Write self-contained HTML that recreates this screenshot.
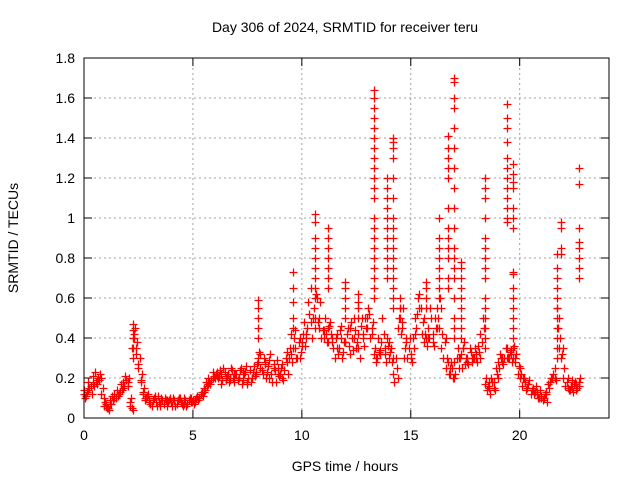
<!DOCTYPE html>
<html><head><meta charset="utf-8"><style>
body{margin:0;background:#fff}
text{font-family:"Liberation Sans",sans-serif;font-size:14px;fill:#000}
</style></head><body>
<svg id="chart" width="640" height="480">
<g id="grid"></g>
<g id="pts"></g>
<g id="axes"></g>
<text x="345" y="32" text-anchor="middle">Day 306 of 2024, SRMTID for receiver teru</text>
<text x="345" y="471" text-anchor="middle">GPS time / hours</text>
<text transform="translate(18,238) rotate(-90)" text-anchor="middle">SRMTID / TECUs</text>
</svg>
<script>
const xTicks=[0,5,10,15,20];
const yTicks=[0,0.2,0.4,0.6,0.8,1,1.2,1.4,1.6,1.8];
const yTickLabels=["0","0.2","0.4","0.6","0.8","1","1.2","1.4","1.6","1.8"];
const baseT=[0,0.2,0.4,0.6,0.8,0.9,1.0,1.2,1.4,1.6,1.8,2.0,2.1,2.2,2.3,2.4,2.5,2.6,2.7,2.8,3.0,3.2,3.5,3.8,4.0,4.3,4.6,4.9,5.1,5.3,5.5,5.7,5.9,6.1,6.3,6.5,6.7,6.9,7.1,7.3,7.5,7.7,7.9,8.0,8.1,8.3,8.5,8.7,8.9,9.1,9.3,9.5,9.7,9.9,10.0,10.2,10.4,10.6,10.8,11.0,11.2,11.4,11.6,11.8,12.0,12.2,12.4,12.6,12.8,13.0,13.2,13.4,13.6,13.8,14.0,14.2,14.4,14.6,14.8,15.0,15.2,15.4,15.6,15.8,16.0,16.2,16.4,16.6,16.8,17.0,17.2,17.4,17.6,17.8,18.0,18.2,18.4,18.6,18.8,19.0,19.2,19.4,19.6,19.8,20.0,20.2,20.4,20.6,20.8,21.0,21.2,21.4,21.6,21.8,22.0,22.2,22.4,22.6,22.7];
const baseV=[0.12,0.14,0.17,0.19,0.2,0.1,0.06,0.07,0.1,0.12,0.15,0.18,0.08,0.05,0.4,0.35,0.25,0.18,0.12,0.1,0.08,0.1,0.07,0.09,0.08,0.09,0.07,0.08,0.09,0.1,0.13,0.17,0.2,0.21,0.22,0.2,0.19,0.22,0.2,0.23,0.18,0.2,0.22,0.3,0.25,0.28,0.2,0.25,0.22,0.2,0.28,0.32,0.35,0.3,0.38,0.42,0.48,0.5,0.45,0.4,0.45,0.38,0.35,0.4,0.38,0.45,0.4,0.35,0.42,0.5,0.45,0.3,0.32,0.35,0.38,0.3,0.2,0.45,0.38,0.3,0.42,0.55,0.5,0.4,0.38,0.45,0.55,0.4,0.25,0.2,0.3,0.35,0.28,0.3,0.32,0.3,0.35,0.18,0.15,0.2,0.28,0.3,0.32,0.3,0.25,0.2,0.17,0.15,0.13,0.1,0.12,0.18,0.2,0.5,0.35,0.2,0.15,0.17,0.16];
const scatterStart=0.05;
const scatterV=[
0.10,0.13,0.15,0.12,0.16,0.18,0.2,0.22,0.15,0.08,
0.05,0.04,0.07,0.09,0.1,0.11,0.13,0.14,0.16,0.19,
0.2,0.1,0.04,0.45,0.38,0.3,0.22,0.15,0.1,0.12,
0.07,0.09,0.11,0.06,0.08,0.1,0.07,0.09,0.08,0.1,
0.06,0.09,0.07,0.1,0.08,0.06,0.09,0.07,0.1,0.08,
0.07,0.1,0.09,0.12,0.11,0.14,0.16,0.18,0.19,0.21,
0.22,0.2,0.24,0.19,0.23,0.21,0.18,0.25,0.2,0.22,
0.19,0.24,0.17,0.22,0.26,0.2,0.18,0.23,0.21,0.27,
0.33,0.24,0.3,0.2,0.26,0.32,0.18,0.24,0.29,0.21,
0.25,0.19,0.3,0.22,0.35,0.28,0.4,0.3,0.38,0.33,
0.42,0.36,0.45,0.52,0.4,0.55,0.62,0.48,0.58,0.44,
0.5,0.38,0.46,0.42,0.35,0.4,0.32,0.44,0.3,0.38,
0.42,0.36,0.48,0.34,0.44,0.38,0.3,0.5,0.36,0.45,
0.55,0.4,0.48,0.35,0.3,0.33,0.38,0.42,0.28,0.36,
0.33,0.28,0.18,0.25,0.5,0.42,0.55,0.35,0.3,0.4,
0.28,0.35,0.45,0.6,0.55,0.48,0.42,0.36,0.4,0.5,
0.36,0.45,0.5,0.6,0.42,0.38,0.3,0.22,0.28,0.2,
0.22,0.35,0.3,0.25,0.38,0.3,0.27,0.33,0.3,0.35,
0.28,0.33,0.38,0.45,0.2,0.16,0.12,0.18,0.14,0.22,
0.25,0.3,0.27,0.35,0.3,0.33,0.28,0.36,0.32,0.26,
0.22,0.2,0.18,0.15,0.19,0.14,0.12,0.16,0.1,0.14,
0.09,0.12,0.08,0.15,0.2,0.22,0.19,0.45,0.4,0.32,
0.25,0.18,0.14,0.16,0.13,0.18,0.15,0.2];
const scatter2Start=0.0;
const scatter2V=[
0.14,0.11,0.18,0.16,0.21,0.23,0.17,0.19,0.12,0.06,
0.07,0.05,0.09,0.11,0.12,0.14,0.12,0.17,0.18,0.21,
0.16,0.06,0.35,0.42,0.32,0.27,0.19,0.13,0.09,0.11,
0.09,0.06,0.1,0.08,0.11,0.06,0.09,0.1,0.06,0.09,
0.08,0.1,0.06,0.09,0.1,0.07,0.1,0.06,0.09,0.1,
0.09,0.08,0.11,0.1,0.13,0.15,0.18,0.2,0.17,0.23,
0.2,0.23,0.21,0.17,0.25,0.19,0.22,0.2,0.24,0.18,
0.22,0.2,0.25,0.19,0.23,0.17,0.24,0.2,0.26,0.23,
0.28,0.32,0.22,0.27,0.23,0.29,0.22,0.27,0.18,0.25,
0.22,0.27,0.24,0.33,0.3,0.42,0.35,0.44,0.3,0.4,
0.36,0.48,0.4,0.58,0.65,0.5,0.45,0.6,0.5,0.4,
0.44,0.42,0.38,0.48,0.4,0.3,0.42,0.35,0.46,0.33,
0.38,0.45,0.32,0.4,0.5,0.35,0.42,0.46,0.4,0.5,
0.45,0.52,0.42,0.32,0.28,0.4,0.34,0.5,0.32,0.4,
0.3,0.35,0.22,0.3,0.45,0.55,0.48,0.3,0.4,0.35,
0.32,0.4,0.5,0.52,0.62,0.42,0.38,0.4,0.45,0.55,
0.42,0.5,0.55,0.45,0.35,0.3,0.25,0.28,0.22,0.25,
0.28,0.3,0.25,0.32,0.35,0.27,0.3,0.35,0.28,0.3,
0.3,0.36,0.42,0.5,0.17,0.14,0.15,0.2,0.18,0.25,
0.28,0.32,0.3,0.3,0.35,0.3,0.34,0.3,0.28,0.22,
0.2,0.16,0.2,0.14,0.17,0.12,0.14,0.13,0.12,0.1,
0.11,0.1,0.13,0.17,0.18,0.2,0.25,0.55,0.35,0.3,
0.2,0.16,0.15,0.14,0.19,0.17,0.14,0.18];
const spikeTimes=[2.25,8.0,9.6,10.6,11.2,12.0,12.6,13.3,13.9,14.2,14.5,15.7,16.3,16.7,17.0,17.3,18.4,19.4,19.7,21.7,21.9,22.7];
const spikeValues=[
[0.47,0.44,0.4,0.35,0.3],
[0.59,0.55,0.5,0.45,0.4],
[0.73,0.65,0.58,0.5,0.45],
[1.02,0.98,0.9,0.85,0.8,0.75,0.7,0.65,0.6],
[0.95,0.9,0.85,0.8,0.75,0.7,0.65],
[0.68,0.65,0.6,0.55,0.5],
[0.62,0.58,0.55,0.5],
[1.64,1.6,1.55,1.5,1.45,1.4,1.35,1.3,1.25,1.2,1.15,1.1,1.0,0.95,0.9,0.85,0.8,0.75,0.7,0.65,0.6],
[1.2,1.15,1.1,1.05,1.0,0.95,0.9,0.85,0.8,0.75,0.7],
[1.4,1.38,1.35,1.3,1.2,1.1,1.0,0.95,0.9,0.85,0.8,0.75,0.7,0.65,0.6,0.55],
[0.6,0.55,0.5],
[0.68,0.65,0.6,0.55],
[1.0,0.9,0.85,0.8,0.75,0.7,0.65,0.6],
[1.41,1.35,1.3,1.25,1.2,1.05,0.95,0.9,0.85,0.8,0.7,0.65],
[1.7,1.68,1.6,1.55,1.45,1.35,1.25,1.15,1.05,0.95,0.85,0.8,0.75,0.7,0.6,0.5,0.45,0.4],
[0.78,0.75,0.7,0.65,0.6,0.55,0.5,0.45,0.4],
[1.2,1.15,1.1,1.0,0.9,0.85,0.8,0.75,0.7,0.6,0.55,0.5,0.45,0.4],
[1.57,1.5,1.45,1.38,1.3,1.25,1.2,1.15,1.1,1.05,1.0,0.98],
[1.27,1.22,1.18,1.15,1.05,1.0,0.95,0.73,0.72,0.65,0.6,0.55,0.5,0.45,0.4,0.35],
[0.82,0.75,0.7,0.65,0.6,0.55,0.5,0.45,0.4,0.35,0.3],
[0.98,0.95,0.85,0.82],
[1.25,1.17,0.95,0.88,0.85,0.8,0.75,0.7]];
const L=84,R=609,T=58,B=418,XMAX=24.1,YMAX=1.8;
const NS="http://www.w3.org/2000/svg";
function xs(v){return L+(R-L)*v/XMAX;}
function ys(v){return B-(B-T)*v/YMAX;}
function mk(tag,attrs,parent){const e=document.createElementNS(NS,tag);for(const k in attrs)e.setAttribute(k,attrs[k]);parent.appendChild(e);return e;}
const grid=document.getElementById('grid'),axes=document.getElementById('axes'),pts=document.getElementById('pts');
yTicks.forEach((v,i)=>{const y=ys(v);
 if(i>0&&i<yTicks.length-1){const g=mk('line',{x1:L,x2:R,y1:y,y2:y,stroke:'#a0a0a0','stroke-dasharray':'2,3'},grid);
 
 }
 mk('line',{x1:L,x2:L+8,y1:y,y2:y,stroke:'#000'},axes);
 mk('line',{x1:R,x2:R-8,y1:y,y2:y,stroke:'#000'},axes);
 const t=mk('text',{x:L-9,y:y+5,'text-anchor':'end'},axes);t.textContent=yTickLabels[i];
 
 
});
xTicks.forEach(v=>{const x=xs(v);
 if(v>0){const g=mk('line',{x1:x,x2:x,y1:T,y2:B,stroke:'#a0a0a0','stroke-dasharray':'2,3'},grid);
 
 }
 mk('line',{x1:x,x2:x,y1:B,y2:B-8,stroke:'#000'},axes);
 mk('line',{x1:x,x2:x,y1:T,y2:T+8,stroke:'#000'},axes);
 const t=mk('text',{x:x,y:B+22,'text-anchor':'middle'},axes);t.textContent=String(v);
 
 
});
const fr=mk('rect',{x:L,y:T,width:R-L,height:B-T,fill:'none',stroke:'#000'},axes);


function plus(t,v){const x=Math.round(xs(t))+0.5,y=Math.round(ys(v))+0.5;
 const p=mk('path',{d:`M${x-4},${y}H${x+4}M${x},${y-4}V${y+4}`,stroke:'#ff0000','stroke-width':1.3,fill:'none'},pts);
 
 }
baseT.forEach((t,i)=>plus(t,baseV[i]));
scatterV.forEach((v,i)=>plus(scatterStart+i*0.1,v));
scatter2V.forEach((v,i)=>plus(scatter2Start+i*0.1,v));
spikeTimes.forEach((t,i)=>spikeValues[i].forEach(v=>plus(t,v)));
</script>
</body></html>
